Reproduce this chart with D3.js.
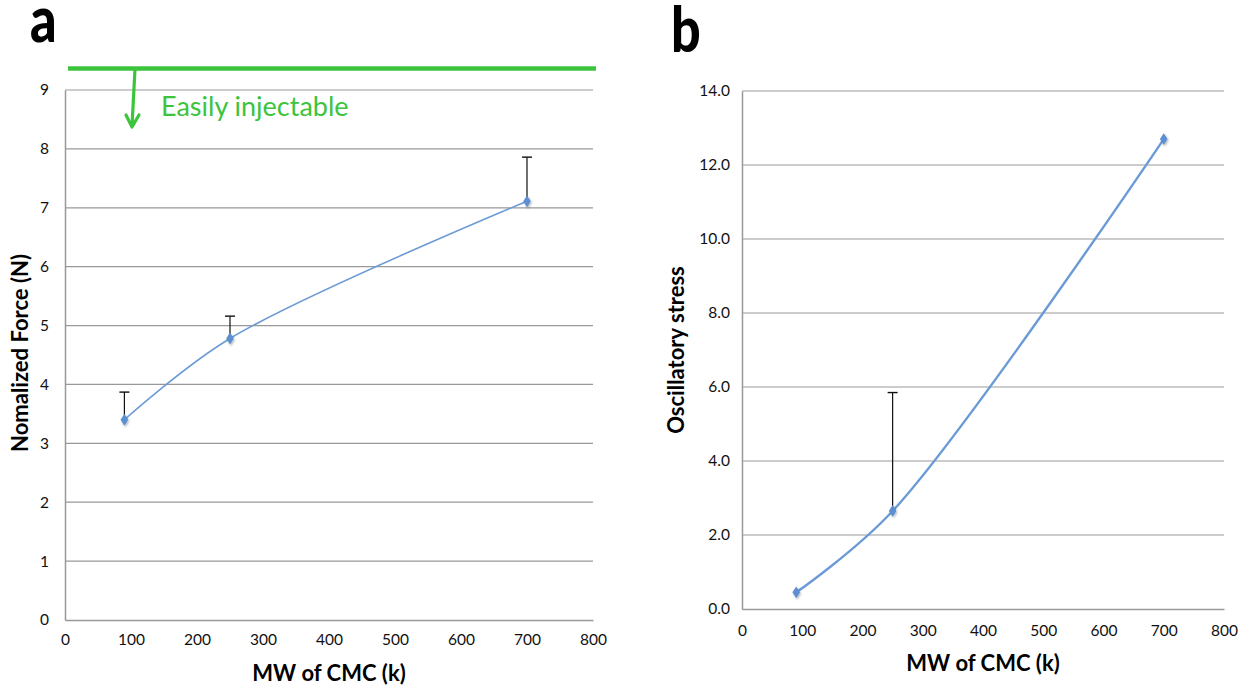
<!DOCTYPE html>
<html><head><meta charset="utf-8">
<script src="https://cdn.jsdelivr.net/npm/d3@7"></script>
<style>body{margin:0;background:#fff}svg{display:block}text{font-family:Lato,"Open Sans",sans-serif}</style>
</head><body>
<svg id="c" width="1247" height="690"></svg>
<script>
const mwA = [90, 250, 700];
const forceA = [3.4, 4.78, 7.11];
const errA = [0.47, 0.38, 0.75];
const mwB = [90, 250, 700];
const stressB = [0.45, 2.65, 12.7];
const errB = [0, 3.2, 0];
const xTicks = [0,100,200,300,400,500,600,700,800];
const yTicksA = [0,1,2,3,4,5,6,7,8,9];
const yTicksB = [0,2,4,6,8,10,12,14];

const svg = d3.select("#c");
const gridCol = "#999", lineCol = "#6b9bd6", ptCol = "#5b8fd1", green = "#3cc43c";

const defs = svg.append("defs");
const f = defs.append("filter").attr("id","sh").attr("x","-50%").attr("y","-50%").attr("width","200%").attr("height","200%");
f.append("feDropShadow").attr("dx",1).attr("dy",1.5).attr("stdDeviation",1.2).attr("flood-color","#000").attr("flood-opacity",0.3);

function panel(o){
  const g = svg.append("g");
  const x = d3.scaleLinear().domain([0,800]).range([o.x0,o.x1]);
  const y = d3.scaleLinear().domain([0,o.ymax]).range([o.y0,o.y1]);
  g.selectAll(".gl").data(o.yt.slice(1)).join("line")
    .attr("x1",o.x0).attr("x2",o.x1).attr("y1",d=>y(d)).attr("y2",d=>y(d))
    .attr("stroke",gridCol).attr("stroke-width",1.2);
  const ya = g.append("g").attr("transform",`translate(${o.x0},0)`)
    .call(d3.axisLeft(y).tickValues(o.yt).tickSize(0).tickPadding(o.ypad).tickFormat(o.yf));
  ya.select(".domain").attr("stroke",gridCol).attr("stroke-width",1.5);
  ya.selectAll("text").attr("font-size",15.5).attr("fill","#111");
  const xa = g.append("g").attr("transform",`translate(0,${o.y0})`)
    .call(d3.axisBottom(x).tickValues(xTicks).tickSize(0).tickPadding(o.xpad));
  xa.select(".domain").attr("stroke",gridCol).attr("stroke-width",1.5);
  xa.selectAll("text").attr("font-size",15.5).attr("fill","#111");
  g.append("text").attr("x",(o.x0+o.x1)/2).attr("y",o.xty).attr("text-anchor","middle")
    .attr("font-size",22).attr("font-weight","bold").text("MW of CMC (k)");
  g.append("text").attr("transform",`translate(${o.ytx},${o.ytyc}) rotate(-90)`).attr("text-anchor","middle")
    .attr("font-size",22).attr("font-weight","bold").text(o.ytitle);
  g.append("text").attr("transform",`translate(${o.lx},${o.ly}) scale(0.84,1)`)
    .attr("font-size",o.ls).attr("font-weight","900").text(o.letter);
  const eb = o.mw.map((d,i)=>({x:d,y:o.v[i],e:o.err[i]})).filter(d=>d.e>0);
  g.selectAll(".eb").data(eb).join("line").attr("x1",d=>x(d.x)).attr("x2",d=>x(d.x))
    .attr("y1",d=>y(d.y)).attr("y2",d=>y(d.y+d.e)).attr("stroke","#111").attr("stroke-width",1.2);
  g.selectAll(".ec").data(eb).join("line").attr("x1",d=>x(d.x)-5).attr("x2",d=>x(d.x)+5)
    .attr("y1",d=>y(d.y+d.e)).attr("y2",d=>y(d.y+d.e)).attr("stroke","#111").attr("stroke-width",1.4);
  const line = d3.line().x((d,i)=>x(o.mw[i])).y(d=>y(d)).curve(d3.curveCatmullRom.alpha(0.5));
  g.append("path").datum(o.v).attr("d",line).attr("fill","none").attr("stroke",lineCol).attr("stroke-width",o.lw);
  g.selectAll(".pt").data(o.v).join("path")
    .attr("d",d3.symbol(d3.symbolDiamond,50))
    .attr("transform",(d,i)=>`translate(${x(o.mw[i])},${y(d)}) scale(1,0.9)`)
    .attr("fill",ptCol).attr("filter","url(#sh)");
  return {x,y};
}

panel({x0:65,x1:593,y0:620,y1:90,ymax:9,yt:yTicksA,yf:d3.format("d"),ypad:16,xpad:14,
  mw:mwA,v:forceA,err:errA,lw:1.6,xty:681,ytx:28,ytyc:353,ytitle:"Nomalized Force (N)",letter:"a",lx:30,ly:42,ls:62});
panel({x0:742,x1:1224,y0:609,y1:91,ymax:14,yt:yTicksB,yf:d3.format(".1f"),ypad:12,xpad:16,
  mw:mwB,v:stressB,err:errB,lw:2.4,xty:671,ytx:684,ytyc:350,ytitle:"Oscillatory stress",letter:"b",lx:671,ly:52,ls:62});

// annotation on panel a
svg.append("line").attr("x1",68).attr("x2",596).attr("y1",68.5).attr("y2",68.5)
  .attr("stroke",green).attr("stroke-width",4.5);
svg.append("line").attr("x1",135).attr("y1",69).attr("x2",132).attr("y2",126)
  .attr("stroke",green).attr("stroke-width",3.2);
svg.append("path").attr("d","M126,115 L132,127 L139,115")
  .attr("fill","none").attr("stroke",green).attr("stroke-width",3.2).attr("stroke-linejoin","round").attr("stroke-linecap","round");
svg.append("text").attr("x",161).attr("y",116).attr("font-size",27).attr("fill",green).text("Easily injectable");
</script>
</body></html>
